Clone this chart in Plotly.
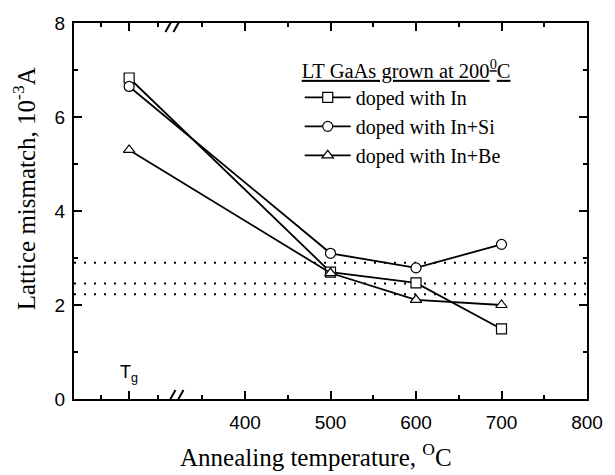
import plotly.graph_objects as go

# ---- data ----
# x position of the Tg (growth, 200 C) point on the broken axis (virtual coordinate)
TG_POS = 264.5
BREAK_POS = 317.5
temps = ["Tg", 500, 600, 700]
x_pos = [TG_POS, 500, 600, 700]
series_names = ["doped with In", "doped with In+Si", "doped with In+Be"]
y_in = [6.83, 2.70, 2.47, 1.49]
y_in_si = [6.65, 3.10, 2.79, 3.29]
y_in_be = [5.30, 2.68, 2.11, 2.00]
ref_levels = [2.90, 2.46, 2.23]
x_major_ticks = [TG_POS, 400, 500, 600, 700, 800]
x_major_text = ["", "400", "500", "600", "700", "800"]
x_minor_ticks = [232, 298, 350, 450, 550, 650, 750]
y_major_ticks = [0, 2, 4, 6, 8]
y_minor_ticks = [1, 3, 5, 7]

symbols = ["square", "circle", "triangle-up"]
series = [y_in, y_in_si, y_in_be]

fig = go.Figure()
for name, ys, sym in zip(series_names, series, symbols):
    fig.add_trace(go.Scatter(
        x=x_pos, y=ys, name=name, mode="lines+markers",
        line=dict(color="black", width=1.8),
        marker=dict(symbol=sym, size=10, color="white",
                    line=dict(color="black", width=1.2)),
    ))

for lv in ref_levels:
    fig.add_shape(type="line", xref="paper", x0=0, x1=1, yref="y", y0=lv, y1=lv,
                  line=dict(color="black", width=2, dash="2px,8px"), layer="below")

# axis break marks (top and bottom)
for yv in [0, 8]:
    for dx in [-4, 4]:
        fig.add_shape(type="line", xref="x", yref="y",
                      xsizemode="pixel", ysizemode="pixel",
                      xanchor=BREAK_POS, yanchor=yv,
                      x0=dx - 5, x1=dx + 5, y0=-9, y1=9,
                      line=dict(color="black", width=2))

serif = "Liberation Serif"
sans = "Liberation Sans"

fig.update_layout(
    width=615, height=475,
    margin=dict(l=74, r=26, t=23, b=76),
    plot_bgcolor="white", paper_bgcolor="white",
    showlegend=True,
    legend=dict(
        x=0.44, y=0.925, xanchor="left", yanchor="top",
        bgcolor="rgba(0,0,0,0)",
        font=dict(family=serif, size=20, color="black"),
        title=dict(text="<u>LT GaAs grown at 200<sup>0</sup>C</u>",
                   font=dict(family=serif, size=20.5, color="black")),
        itemwidth=46, tracegroupgap=0,
    ),
    xaxis=dict(
        range=[200, 800], showgrid=False, zeroline=False,
        showline=True, linecolor="black", linewidth=2, mirror="ticks",
        ticks="inside", ticklen=8, tickwidth=1.5, tickcolor="black",
        tickmode="array", tickvals=x_major_ticks, ticktext=x_major_text,
        tickfont=dict(family=sans, size=19, color="black"),
        ticklabelstandoff=5,
        minor=dict(tickmode="array", tickvals=x_minor_ticks, ticks="inside",
                   ticklen=4, tickwidth=1.5, tickcolor="black", showgrid=False),
    ),
    yaxis=dict(
        range=[0, 8], showgrid=False, zeroline=False,
        showline=True, linecolor="black", linewidth=2, mirror="ticks",
        ticks="inside", ticklen=8, tickwidth=1.5, tickcolor="black",
        tickmode="array", tickvals=y_major_ticks,
        tickfont=dict(family=sans, size=19, color="black"),
        ticklabelstandoff=3,
        minor=dict(tickmode="array", tickvals=y_minor_ticks, ticks="inside",
                   ticklen=4, tickwidth=1.5, tickcolor="black", showgrid=False),
    ),
    annotations=[
        dict(text="Annealing temperature, <sup>O</sup>C", xref="paper", yref="paper",
             x=0.471, y=-0.149, xanchor="center", yanchor="middle", showarrow=False,
             font=dict(family=serif, size=25, color="black")),
        dict(text="Lattice mismatch, 10<sup>-3</sup>A", xref="paper", yref="paper",
             x=-0.097, y=0.5585, xanchor="center", yanchor="middle", textangle=-90,
             showarrow=False, font=dict(family=serif, size=25, color="black")),
        dict(text="T<sub>g</sub>", xref="x", yref="y", x=TG_POS, y=0.55,
             xanchor="center", yanchor="middle", showarrow=False,
             font=dict(family=sans, size=18, color="black")),
    ],
)

fig.write_html("out.html")
